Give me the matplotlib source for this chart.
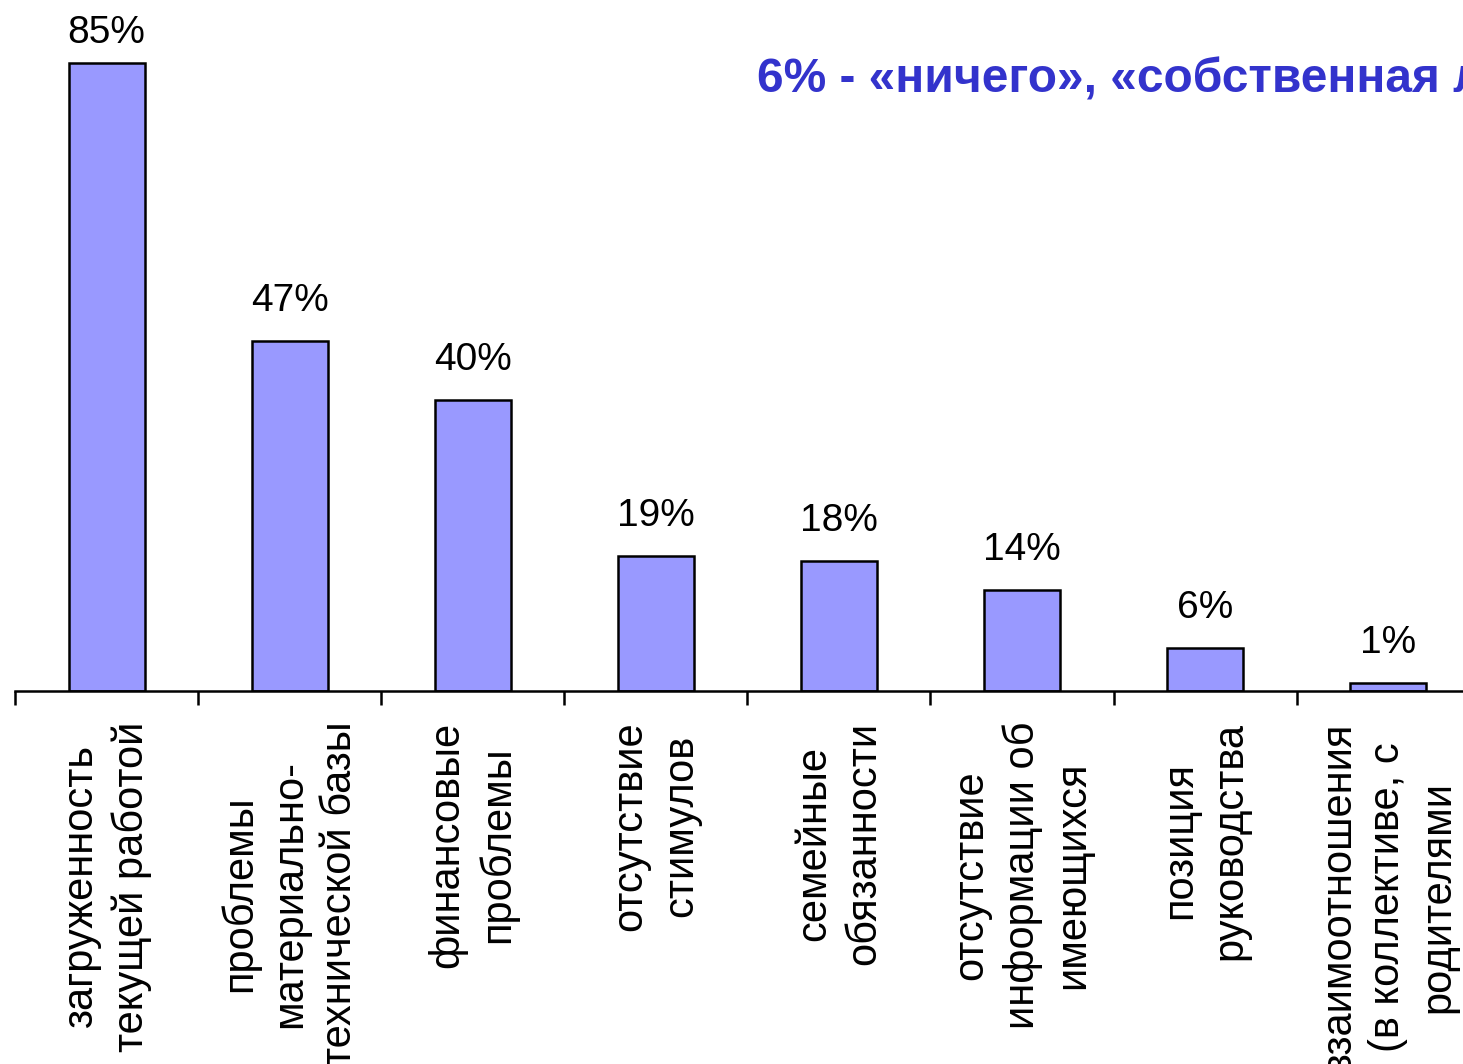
import matplotlib
matplotlib.use("Agg")
import matplotlib.pyplot as plt
import numpy as np

plt.rcParams['font.family'] = ['Liberation Sans', 'DejaVu Sans']

categories = [
    "загруженность\nтекущей работой",
    "проблемы\nматериально-\nтехнической базы",
    "финансовые\nпроблемы",
    "отсутствие\nстимулов",
    "семейные\nобязанности",
    "отсутствие\nинформации об\nимеющихся",
    "позиция\nруководства",
    "взаимоотношения\n(в коллективе, с\nродителями",
]
# bar heights; labels as printed
values = [85, 47.3, 39.4, 18.3, 17.6, 13.7, 5.8, 1.1]
value_labels = ["85%", "47%", "40%", "19%", "18%", "14%", "6%", "1%"]
note = "6% - «ничего», «собственная лень»"

W, H = 1463, 1064
fig = plt.figure(figsize=(W / 100, H / 100), dpi=100)
cat_w = 183.1
left_px = 15
base_px = 691
px_per_unit = 7.392
ax = fig.add_axes([left_px / W, (H - base_px) / H, 8 * cat_w / W, base_px / H])

x = np.arange(len(values))
ax.bar(x, values, width=0.415, color='#9999ff', edgecolor='black', linewidth=1.8)
ax.set_xlim(-0.5, len(values) - 0.5)
ymax = base_px / px_per_unit
ax.set_ylim(0, ymax)

for xi, v, lab in zip(x, values, value_labels):
    # keep the label inside the figure (baseline at least ~43 px from top)
    avail_px = (ymax - v) * px_per_unit - 43
    off_px = min(30, avail_px)
    ax.annotate(lab, (xi, v), xytext=(0, off_px * 0.72), textcoords='offset points',
                ha='center', va='baseline', fontsize=28)

for s in ['left', 'right', 'top']:
    ax.spines[s].set_visible(False)
ax.spines['bottom'].set_linewidth(1.8)
ax.set_yticks([])

ax.set_xticks(x)
ax.set_xticklabels(categories, rotation=90, fontsize=30, ha='center', va='top',
                   multialignment='center', linespacing=1.33)
ax.tick_params(axis='x', which='major', length=0, pad=22)
ax.set_xticks(np.arange(len(values)) - 0.5, minor=True)
ax.tick_params(axis='x', which='minor', length=10, width=1.8, direction='out')

fig.text(757 / W, 1 - 93 / H, note, color='#3333cc', fontsize=34.5,
         fontweight='bold', ha='left', va='baseline')

fig.savefig('out.png', dpi=100)
